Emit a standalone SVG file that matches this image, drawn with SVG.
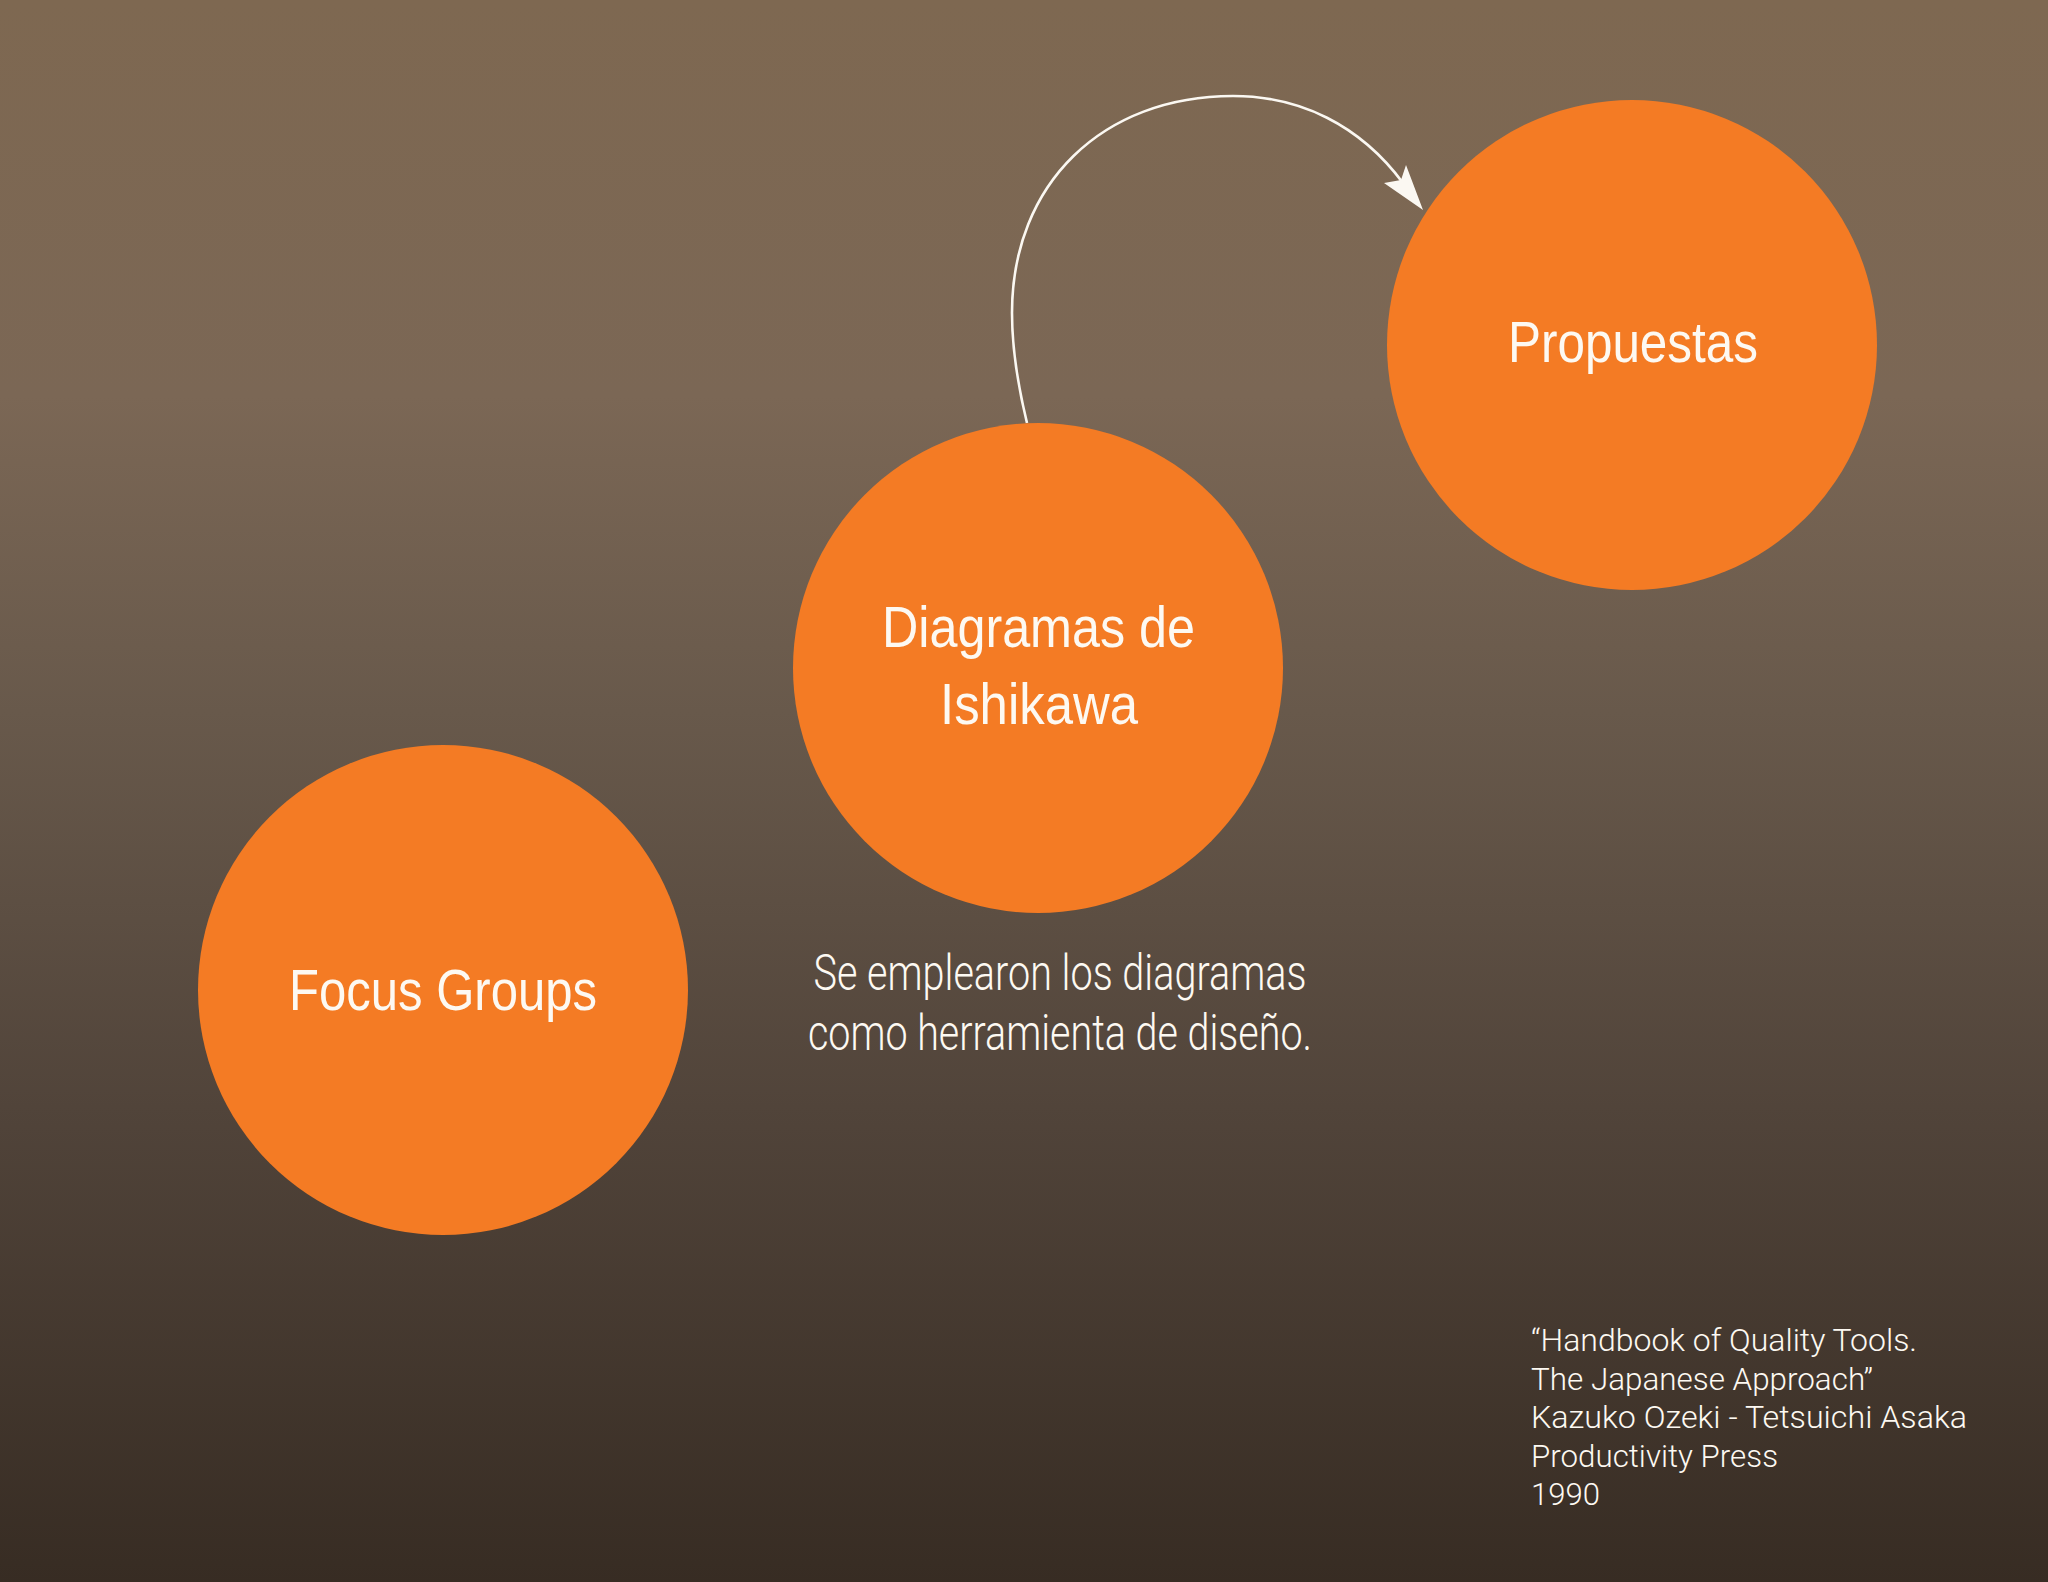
<svg xmlns="http://www.w3.org/2000/svg" width="2048" height="1582" viewBox="0 0 2048 1582">
  <defs>
    <linearGradient id="bg" x1="0" y1="0" x2="0" y2="1">
      <stop offset="0" stop-color="#7e6851"/>
      <stop offset="0.25" stop-color="#7b6755"/>
      <stop offset="0.45" stop-color="#68594b"/>
      <stop offset="0.7" stop-color="#51443a"/>
      <stop offset="1" stop-color="#372c23"/>
    </linearGradient>
    <style>
      .node { fill: #f47b24; }
      .label { font-family: "Liberation Sans", Arial, sans-serif; font-size: 58px; fill: #fdf9f2; text-anchor: middle; }
      .sub { font-family: Roboto, "Liberation Sans", Arial, sans-serif; font-weight: 300; font-size: 50px; fill: #fdf9f2; text-anchor: middle; }
      .cite { font-family: Roboto, "Liberation Sans", Arial, sans-serif; font-weight: 300; font-size: 31px; fill: #fdf9f2; }
      .conn { fill: none; stroke: #fbf8f2; stroke-width: 2.6; }
      .head { fill: #fbf8f2; }
    </style>
  </defs>
  <rect x="0" y="0" width="2048" height="1582" fill="url(#bg)"/>

  <g id="connectors">
    <path class="conn" d="M1027,423 C1019,390 1012,350 1012,313 C1012,183 1103,96 1233,96 C1300,96 1360,125 1403,183"/>
    <polygon class="head" points="1423,210 1384,183 1401,180 1406,165"/>
  </g>

  <g id="node-focus">
    <circle class="node" cx="443" cy="990" r="245"/>
    <text class="label" x="443" y="1010" textLength="308" lengthAdjust="spacingAndGlyphs">Focus Groups</text>
  </g>

  <g id="node-ishikawa">
    <circle class="node" cx="1038" cy="668" r="245"/>
    <text class="label" x="1038.5" y="647" textLength="313" lengthAdjust="spacingAndGlyphs">Diagramas de</text>
    <text class="label" x="1039" y="724" textLength="198" lengthAdjust="spacingAndGlyphs">Ishikawa</text>
  </g>

  <g id="node-propuestas">
    <circle class="node" cx="1632" cy="345" r="245"/>
    <text class="label" x="1633" y="362" textLength="250" lengthAdjust="spacingAndGlyphs">Propuestas</text>
  </g>

  <g id="caption">
    <text class="sub" x="1060" y="990" textLength="493" lengthAdjust="spacingAndGlyphs">Se emplearon los diagramas</text>
    <text class="sub" x="1060" y="1050" textLength="504" lengthAdjust="spacingAndGlyphs">como herramienta de diseño.</text>
  </g>

  <g id="citation">
    <text class="cite" x="1531" y="1351" textLength="386" lengthAdjust="spacingAndGlyphs">“Handbook of Quality Tools.</text>
    <text class="cite" x="1531" y="1390" textLength="342" lengthAdjust="spacingAndGlyphs">The Japanese Approach”</text>
    <text class="cite" x="1531" y="1428" textLength="436" lengthAdjust="spacingAndGlyphs">Kazuko Ozeki - Tetsuichi Asaka</text>
    <text class="cite" x="1531" y="1467" textLength="247" lengthAdjust="spacingAndGlyphs">Productivity Press</text>
    <text class="cite" x="1531" y="1505" textLength="69" lengthAdjust="spacingAndGlyphs">1990</text>
  </g>
</svg>
